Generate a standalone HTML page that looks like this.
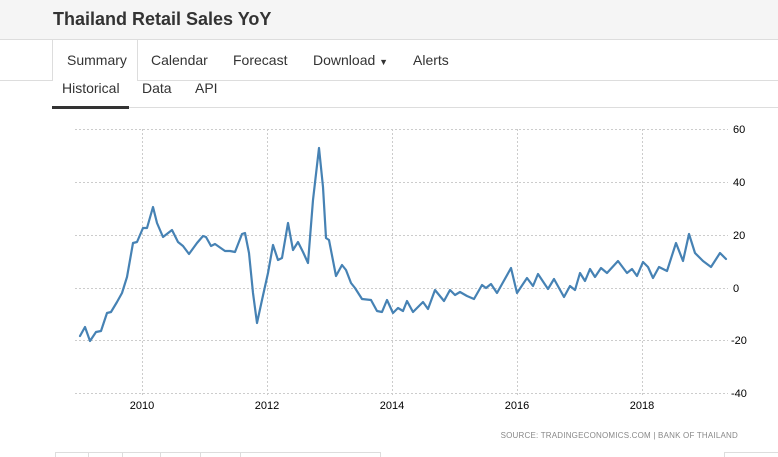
<!DOCTYPE html>
<html><head><meta charset="utf-8"><style>
body{margin:0;width:778px;height:457px;overflow:hidden;background:#fff;font-family:"Liberation Sans",Arial,sans-serif;position:relative}
.hdr{position:absolute;left:0;top:0;width:778px;height:39px;background:#f5f5f5;border-bottom:1px solid #ddd}
.hdr h1{position:absolute;left:53px;top:9px;margin:0;font-size:18px;font-weight:bold;color:#333}
.nav{position:absolute;top:40px;left:0;width:778px;height:40px;border-bottom:1px solid #ddd}
.nav span{position:absolute;top:12px;font-size:14px;color:#333}
.sum{position:absolute;left:52px;top:40px;width:84px;height:41px;background:#fff;border-left:1px solid #ddd;border-right:1px solid #ddd}
.sub span{position:absolute;top:80px;font-size:14px;color:#333}
.line2{position:absolute;left:52px;top:107px;width:726px;height:1px;background:#ddd}
.act{position:absolute;left:52px;top:106px;width:77px;height:3px;background:#333}
</style></head><body>
<div class="hdr"><h1>Thailand Retail Sales YoY</h1></div>
<div class="nav"></div>
<div class="sum"></div>
<div class="nav" style="border:none;background:none">
<span style="left:67px">Summary</span><span style="left:151px">Calendar</span><span style="left:233px">Forecast</span><span style="left:313px">Download <span style="position:static;font-size:9px">▼</span></span><span style="left:413px">Alerts</span></div>
<div class="sub"><span style="left:62px">Historical</span><span style="left:142px">Data</span><span style="left:195px">API</span></div>
<div class="line2"></div><div class="act"></div>
<svg width="778" height="457" style="position:absolute;left:0;top:0">
<g stroke="#ccc" stroke-dasharray="2,2" stroke-width="1">
<line x1="75" y1="129.5" x2="728" y2="129.5"/><line x1="75" y1="182.5" x2="728" y2="182.5"/><line x1="75" y1="235.5" x2="728" y2="235.5"/><line x1="75" y1="288.5" x2="728" y2="288.5"/><line x1="75" y1="340.5" x2="728" y2="340.5"/><line x1="75" y1="393.5" x2="728" y2="393.5"/>
<line x1="142.5" y1="129" x2="142.5" y2="395"/><line x1="267.5" y1="129" x2="267.5" y2="395"/><line x1="392.5" y1="129" x2="392.5" y2="395"/><line x1="517.5" y1="129" x2="517.5" y2="395"/><line x1="642.5" y1="129" x2="642.5" y2="395"/>
</g>
<g font-size="11" fill="#000">
<text x="733" y="133">60</text><text x="733" y="186">40</text><text x="733" y="239">20</text><text x="733" y="292">0</text><text x="731" y="344">-20</text><text x="731" y="397">-40</text>
<text x="142" y="409" text-anchor="middle">2010</text><text x="267" y="409" text-anchor="middle">2012</text><text x="392" y="409" text-anchor="middle">2014</text><text x="517" y="409" text-anchor="middle">2016</text><text x="642" y="409" text-anchor="middle">2018</text>
</g>
<text x="738" y="438" text-anchor="end" font-size="8" fill="#888" letter-spacing="0.2">SOURCE: TRADINGECONOMICS.COM | BANK OF THAILAND</text>
<polyline fill="none" stroke="#4682b4" stroke-width="2.2" stroke-linejoin="round" stroke-linecap="round" points="80,336 85,327 90,341 96,332 101,331 107,313 111,312 117,302 122,293 127,277 133,243 137,242 143,228 147,228 153,207 157,223 163,237 172,230 178,242 183,246 189,254 197,243 203,236 206,237 211,246 215,244 225,251 230,251 235,252 242,234 245,233 249,253 253,293 257,323 262,300 268,273 273,245 278,260 282,258 288,223 293,250 298,242 303,252 308,263 313,200 319,148 323,187 326,238 329,240 336,276 342,265 346,270 351,283 355,288 362,299 371,300 377,311 382,312 387,300 393,313 398,308 403,311 407,301 413,312 423,302 428,309 435,290 444,301 450,290 455,295 460,292 467,296 474,299 482,285 486,288 491,284 497,293 511,268 517,293 527,278 533,286 538,274 548,289 554,279 564,297 570,286 575,290 580,273 585,281 590,269 595,277 601,268 607,273 618,261 627,273 632,269 637,276 643,262 648,267 653,278 659,267 667,271 676,243 683,261 689,234 695,253 703,261 711,267 720,253 726,259"/>
<g stroke="#ddd" fill="none"><path d="M55.5,457 V452.5 H380.5 V457"/><path d="M724.5,457 V452.5 H778"/>
<line x1="88.5" y1="452" x2="88.5" y2="457"/><line x1="122.5" y1="452" x2="122.5" y2="457"/><line x1="160.5" y1="452" x2="160.5" y2="457"/><line x1="200.5" y1="452" x2="200.5" y2="457"/><line x1="240.5" y1="452" x2="240.5" y2="457"/></g>
</svg>
</body></html>
